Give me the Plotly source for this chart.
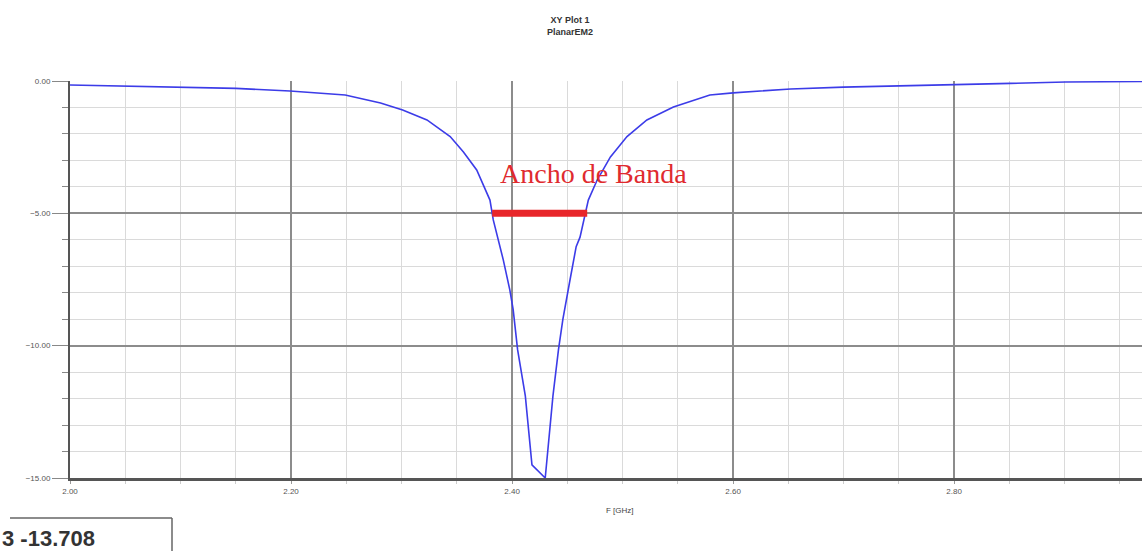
import plotly.graph_objects as go

# S11 curve (GHz, dB)
freq_ghz = [2.000, 2.050, 2.101, 2.150, 2.199, 2.249, 2.281, 2.301, 2.323, 2.344,
            2.356, 2.368, 2.380, 2.383, 2.392, 2.398, 2.401, 2.405, 2.412, 2.418,
            2.430, 2.437, 2.442, 2.446, 2.4525, 2.458, 2.4615, 2.466, 2.469, 2.477,
            2.489, 2.504, 2.522, 2.546, 2.579, 2.600, 2.652, 2.700, 2.751, 2.800,
            2.851, 2.901, 2.970]
s11_db = [-0.15, -0.19, -0.23, -0.28, -0.38, -0.53, -0.83, -1.10, -1.47, -2.10,
          -2.68, -3.36, -4.50, -5.25, -6.75, -7.90, -8.64, -10.15, -11.90, -14.50,
          -15.00, -11.90, -10.15, -9.00, -7.50, -6.26, -5.90, -4.98, -4.50, -3.74,
          -2.87, -2.10, -1.47, -0.98, -0.53, -0.45, -0.30, -0.23, -0.19, -0.15,
          -0.09, -0.04, -0.02]

# bandwidth marker
bw_x = [2.382, 2.468]
bw_y = [-5.0, -5.0]
bw_label = "Ancho de Banda"
bw_label_pos = (2.4738, -3.48)

x_range = [2.0, 2.970]
y_range = [-15.0, 0.0]

title_lines = ["XY Plot 1", "PlanarEM2"]
x_title = "F [GHz]"
marker_text = "3 -13.708"

W, H = 1142, 551
L, R, T, B = 70, 0, 81, 73
pw, ph = W - L - R, H - T - B


def px_to_paper(px, py):
    return (px - L) / pw, (H - B - py) / ph


fig = go.Figure()
fig.add_trace(go.Scatter(x=freq_ghz, y=s11_db, mode="lines",
                         line=dict(color="rgb(60,60,232)", width=1.6),
                         showlegend=False, hoverinfo="skip"))
fig.add_trace(go.Scatter(x=bw_x, y=bw_y, mode="lines",
                         line=dict(color="#e8262a", width=7),
                         showlegend=False, hoverinfo="skip"))

fig.add_annotation(x=bw_label_pos[0], y=bw_label_pos[1], xref="x", yref="y",
                   text=bw_label, showarrow=False,
                   font=dict(family="Liberation Serif", size=28, color="#e02a2e"))

tx, ty = px_to_paper(570, 26)
fig.add_annotation(x=tx, y=ty, xref="paper", yref="paper",
                   text="<br>".join(f"<b>{t}</b>" for t in title_lines),
                   showarrow=False, xanchor="center", yanchor="middle",
                   font=dict(family="Liberation Sans", size=9, color="#333"))

ax_x, ax_y = px_to_paper(620, 510)
fig.add_annotation(x=ax_x, y=ax_y, xref="paper", yref="paper", text=x_title,
                   showarrow=False, xanchor="center", yanchor="middle",
                   font=dict(family="Liberation Sans", size=8, color="#444"))

# marker readout box
bx0, by0 = px_to_paper(10, 518)
bx1, by1 = px_to_paper(172, 560)
fig.add_shape(type="line", xref="paper", yref="paper", x0=bx0, y0=by0, x1=bx1, y1=by0,
              line=dict(color="#666", width=1.5))
fig.add_shape(type="line", xref="paper", yref="paper", x0=bx1, y0=by0, x1=bx1, y1=by1,
              line=dict(color="#666", width=1.5))
mx, my = px_to_paper(0, 538)
fig.add_annotation(x=mx, y=my, xref="paper", yref="paper", text=f"<b>{marker_text}</b>",
                   showarrow=False, xanchor="left", yanchor="middle",
                   font=dict(family="Liberation Sans Narrow, Liberation Sans", size=22,
                             color="#333"))

fig.update_layout(
    width=W, height=H,
    margin=dict(l=L, r=R, t=T, b=B, pad=0),
    paper_bgcolor="white", plot_bgcolor="white",
    font=dict(family="Liberation Sans", size=8, color="#555"),
)
fig.update_xaxes(range=x_range, tick0=2.0, dtick=0.2, tickformat=".2f",
                 showgrid=True, gridcolor="#8c8c8c", gridwidth=1.5,
                 showline=True, linecolor="#555", linewidth=3, mirror=False,
                 ticks="outside", ticklen=3, tickcolor="#999",
                 zeroline=False,
                 minor=dict(dtick=0.05, tick0=2.0, showgrid=True, gridcolor="#dadada",
                            gridwidth=1, ticks="outside", ticklen=3, tickcolor="#ccc"))
fig.update_yaxes(range=y_range, tick0=0, dtick=5, tickformat=".2f",
                 showgrid=True, gridcolor="#8c8c8c", gridwidth=1.5,
                 showline=True, linecolor="#555", linewidth=2,
                 ticks="outside", ticklen=16, tickcolor="#888",
                 zeroline=False,
                 minor=dict(dtick=1, tick0=0, showgrid=True, gridcolor="#dadada",
                            gridwidth=1, ticks="outside", ticklen=6, tickcolor="#888"))

fig.write_html("out.html")
